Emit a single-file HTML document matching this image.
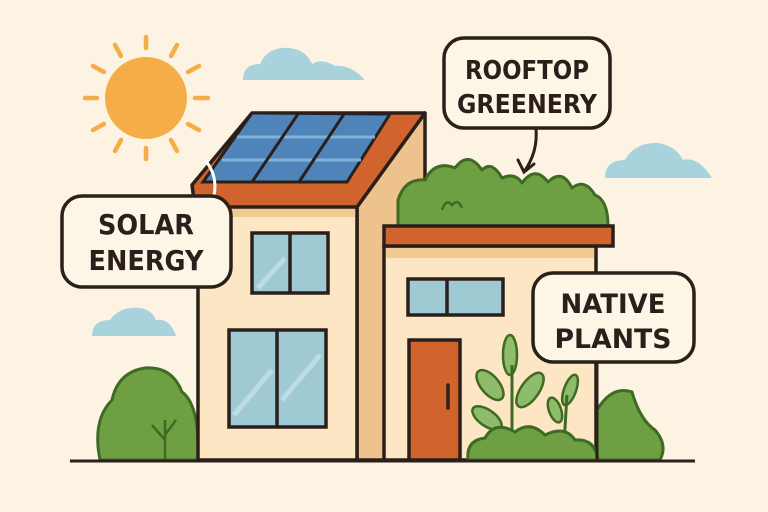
<!DOCTYPE html>
<html><head><meta charset="utf-8"><style>
html,body{margin:0;padding:0;background:#fcf3e3;}
svg{display:block}
text{font-family:"DejaVu Sans","Liberation Sans",sans-serif;font-weight:bold;fill:#2a1f1a;text-anchor:middle}
</style></head><body>
<svg width="768" height="512" viewBox="0 0 768 512">
<rect width="768" height="512" fill="#fcf3e3"/>
<g fill="#a9d3dc">
<path d="M243,80 Q243,64 260,64 Q268,46 290,48 Q306,50 312,64 Q322,58 335,66 Q350,64 365,80 Z"/>
<path d="M605,178 Q605,160 625,160 Q635,142 658,143 Q676,146 683,160 Q698,156 712,178 Z"/>
<path d="M92,336 Q92,320 110,320 Q120,306 140,308 Q152,310 156,320 Q170,318 176,336 Z"/>
</g>
<circle cx="146" cy="98" r="41" fill="#f5ad48"/>
<g stroke="#f5ad48" stroke-width="4.5" stroke-linecap="round">
<line x1="146" y1="37" x2="146" y2="48"/><line x1="146" y1="148" x2="146" y2="159"/>
<line x1="85" y1="98" x2="97" y2="98"/><line x1="195" y1="98" x2="208" y2="98"/>
<line x1="115" y1="45" x2="121" y2="56"/><line x1="171" y1="140" x2="177" y2="151"/>
<line x1="177" y1="45" x2="171" y2="56"/><line x1="121" y1="140" x2="115" y2="151"/>
<line x1="93" y1="66" x2="104" y2="72"/><line x1="188" y1="124" x2="199" y2="130"/>
<line x1="199" y1="66" x2="188" y2="72"/><line x1="104" y1="124" x2="93" y2="130"/>
</g>
<path d="M100,460 Q92,420 112,400 Q118,372 145,368 Q172,366 182,392 Q200,405 198,460 Z" fill="#6ea043" stroke="#3e6a24" stroke-width="3"/>
<path d="M165,460 L165,420 M165,440 L152,425 M165,435 L176,420" stroke="#3e6a24" stroke-width="2.5" fill="none"/>
<polygon points="357,207 425,113 425,460 357,460" fill="#eec28c" stroke="#2a1f1a" stroke-width="3.5" stroke-linejoin="round"/>
<rect x="198" y="205" width="159" height="255" fill="#fde6c3" stroke="#2a1f1a" stroke-width="3.5"/>
<rect x="200" y="207" width="155" height="10" fill="#f1c993"/>
<polygon points="252,113 425,113 357,207 195,207 192,185" fill="#d1642c" stroke="#2a1f1a" stroke-width="3.5" stroke-linejoin="round"/>
<polygon points="252,113 390,114 347,182 203,182" fill="#4f84ba" stroke="#2a1f1a" stroke-width="3"/>
<g stroke="#7fb4d8" stroke-width="3"><line x1="237" y1="137" x2="375" y2="137"/><line x1="222" y1="160" x2="361" y2="160"/></g>
<g stroke="#2a1f1a" stroke-width="3"><line x1="298" y1="114" x2="252" y2="182"/><line x1="344" y1="114" x2="299" y2="182"/></g>
<g stroke="#2a1f1a" stroke-width="3.5" fill="#9fcad3">
<rect x="252" y="233" width="76" height="60"/><line x1="290" y1="233" x2="290" y2="293"/>
<rect x="229" y="330" width="97" height="97"/><line x1="277" y1="330" x2="277" y2="427"/>
</g>
<g stroke="#c5e2e6" stroke-width="5" opacity=".8"><line x1="258" y1="288" x2="285" y2="258"/><line x1="234" y1="415" x2="272" y2="370"/><line x1="282" y1="400" x2="320" y2="355"/></g>
<path d="M398,226 L398,200 Q405,178 425,180 Q435,160 455,168 Q468,150 482,170 Q492,160 502,178 Q515,172 522,183 Q535,165 548,182 Q562,168 572,188 Q585,178 595,195 Q608,200 608,226 Z" fill="#6ea043" stroke="#3e6a24" stroke-width="3" stroke-linejoin="round"/>
<path d="M442,210 Q446,198 452,205 Q458,198 462,208" stroke="#3e6a24" stroke-width="2.5" fill="none"/>
<rect x="384" y="246" width="212" height="214" fill="#fde6c3" stroke="#2a1f1a" stroke-width="3.5"/>
<rect x="386" y="248" width="208" height="10" fill="#f1c993"/>
<rect x="384" y="226" width="229" height="20" fill="#d1642c" stroke="#2a1f1a" stroke-width="3.5"/>
<g stroke="#2a1f1a" stroke-width="3.5" fill="#9fcad3"><rect x="408" y="279" width="95" height="36"/><line x1="447" y1="279" x2="447" y2="315"/></g>
<rect x="409" y="340" width="51" height="120" fill="#d1642c" stroke="#2a1f1a" stroke-width="3.5"/>
<line x1="448" y1="385" x2="448" y2="408" stroke="#2a1f1a" stroke-width="3.5" stroke-linecap="round"/>
<path d="M597,460 L597,410 Q612,385 632,392 Q640,420 655,430 Q668,445 660,460 Z" fill="#6ea043" stroke="#3e6a24" stroke-width="3"/>
<g fill="#8fbc6a" stroke="#3e6a24" stroke-width="2.5">
<ellipse cx="510" cy="355" rx="7" ry="20"/>
<ellipse cx="490" cy="385" rx="9" ry="18" transform="rotate(-40 490 385)"/>
<ellipse cx="530" cy="390" rx="9" ry="20" transform="rotate(35 530 390)"/>
<ellipse cx="487" cy="418" rx="8" ry="17" transform="rotate(-55 487 418)"/>
<ellipse cx="570" cy="390" rx="6" ry="16" transform="rotate(20 570 390)"/>
<ellipse cx="555" cy="410" rx="6" ry="13" transform="rotate(-20 555 410)"/>
</g>
<path d="M512,460 L512,365 M563,460 L567,395" stroke="#3e6a24" stroke-width="3" fill="none"/>
<path d="M468,460 Q466,440 485,438 Q495,420 515,432 Q530,420 545,435 Q565,425 575,440 Q595,438 598,460 Z" fill="#6ea043" stroke="#3e6a24" stroke-width="3"/>
<line x1="70" y1="461" x2="695" y2="461" stroke="#2a1f1a" stroke-width="3"/>
<line x1="597" y1="362" x2="597" y2="460" stroke="#2a1f1a" stroke-width="3"/>
<path d="M205,160 Q218,175 214,196" stroke="#ffffff" stroke-width="3" fill="none"/>
<rect x="62" y="196" width="169" height="91" rx="20" fill="#fdf5e6" stroke="#2a1f1a" stroke-width="3.5"/>
<text x="146" y="234" font-size="28" textLength="96" lengthAdjust="spacingAndGlyphs">SOLAR</text>
<text x="146" y="270" font-size="28" textLength="115" lengthAdjust="spacingAndGlyphs">ENERGY</text>
<rect x="444" y="38" width="166" height="90" rx="20" fill="#fdf5e6" stroke="#2a1f1a" stroke-width="3.5"/>
<text x="527" y="79" font-size="26" textLength="124" lengthAdjust="spacingAndGlyphs">ROOFTOP</text>
<text x="527" y="113" font-size="26" textLength="140" lengthAdjust="spacingAndGlyphs">GREENERY</text>
<path d="M536,129 Q538,152 524,172 M518,160 L524,172 L534,164" stroke="#2a1f1a" stroke-width="3" fill="none" stroke-linecap="round"/>
<rect x="533" y="273" width="161" height="89" rx="20" fill="#fdf5e6" stroke="#2a1f1a" stroke-width="3.5"/>
<text x="613" y="313" font-size="27" textLength="105" lengthAdjust="spacingAndGlyphs">NATIVE</text>
<text x="613" y="348" font-size="27" textLength="117" lengthAdjust="spacingAndGlyphs">PLANTS</text>
</svg>
</body></html>
